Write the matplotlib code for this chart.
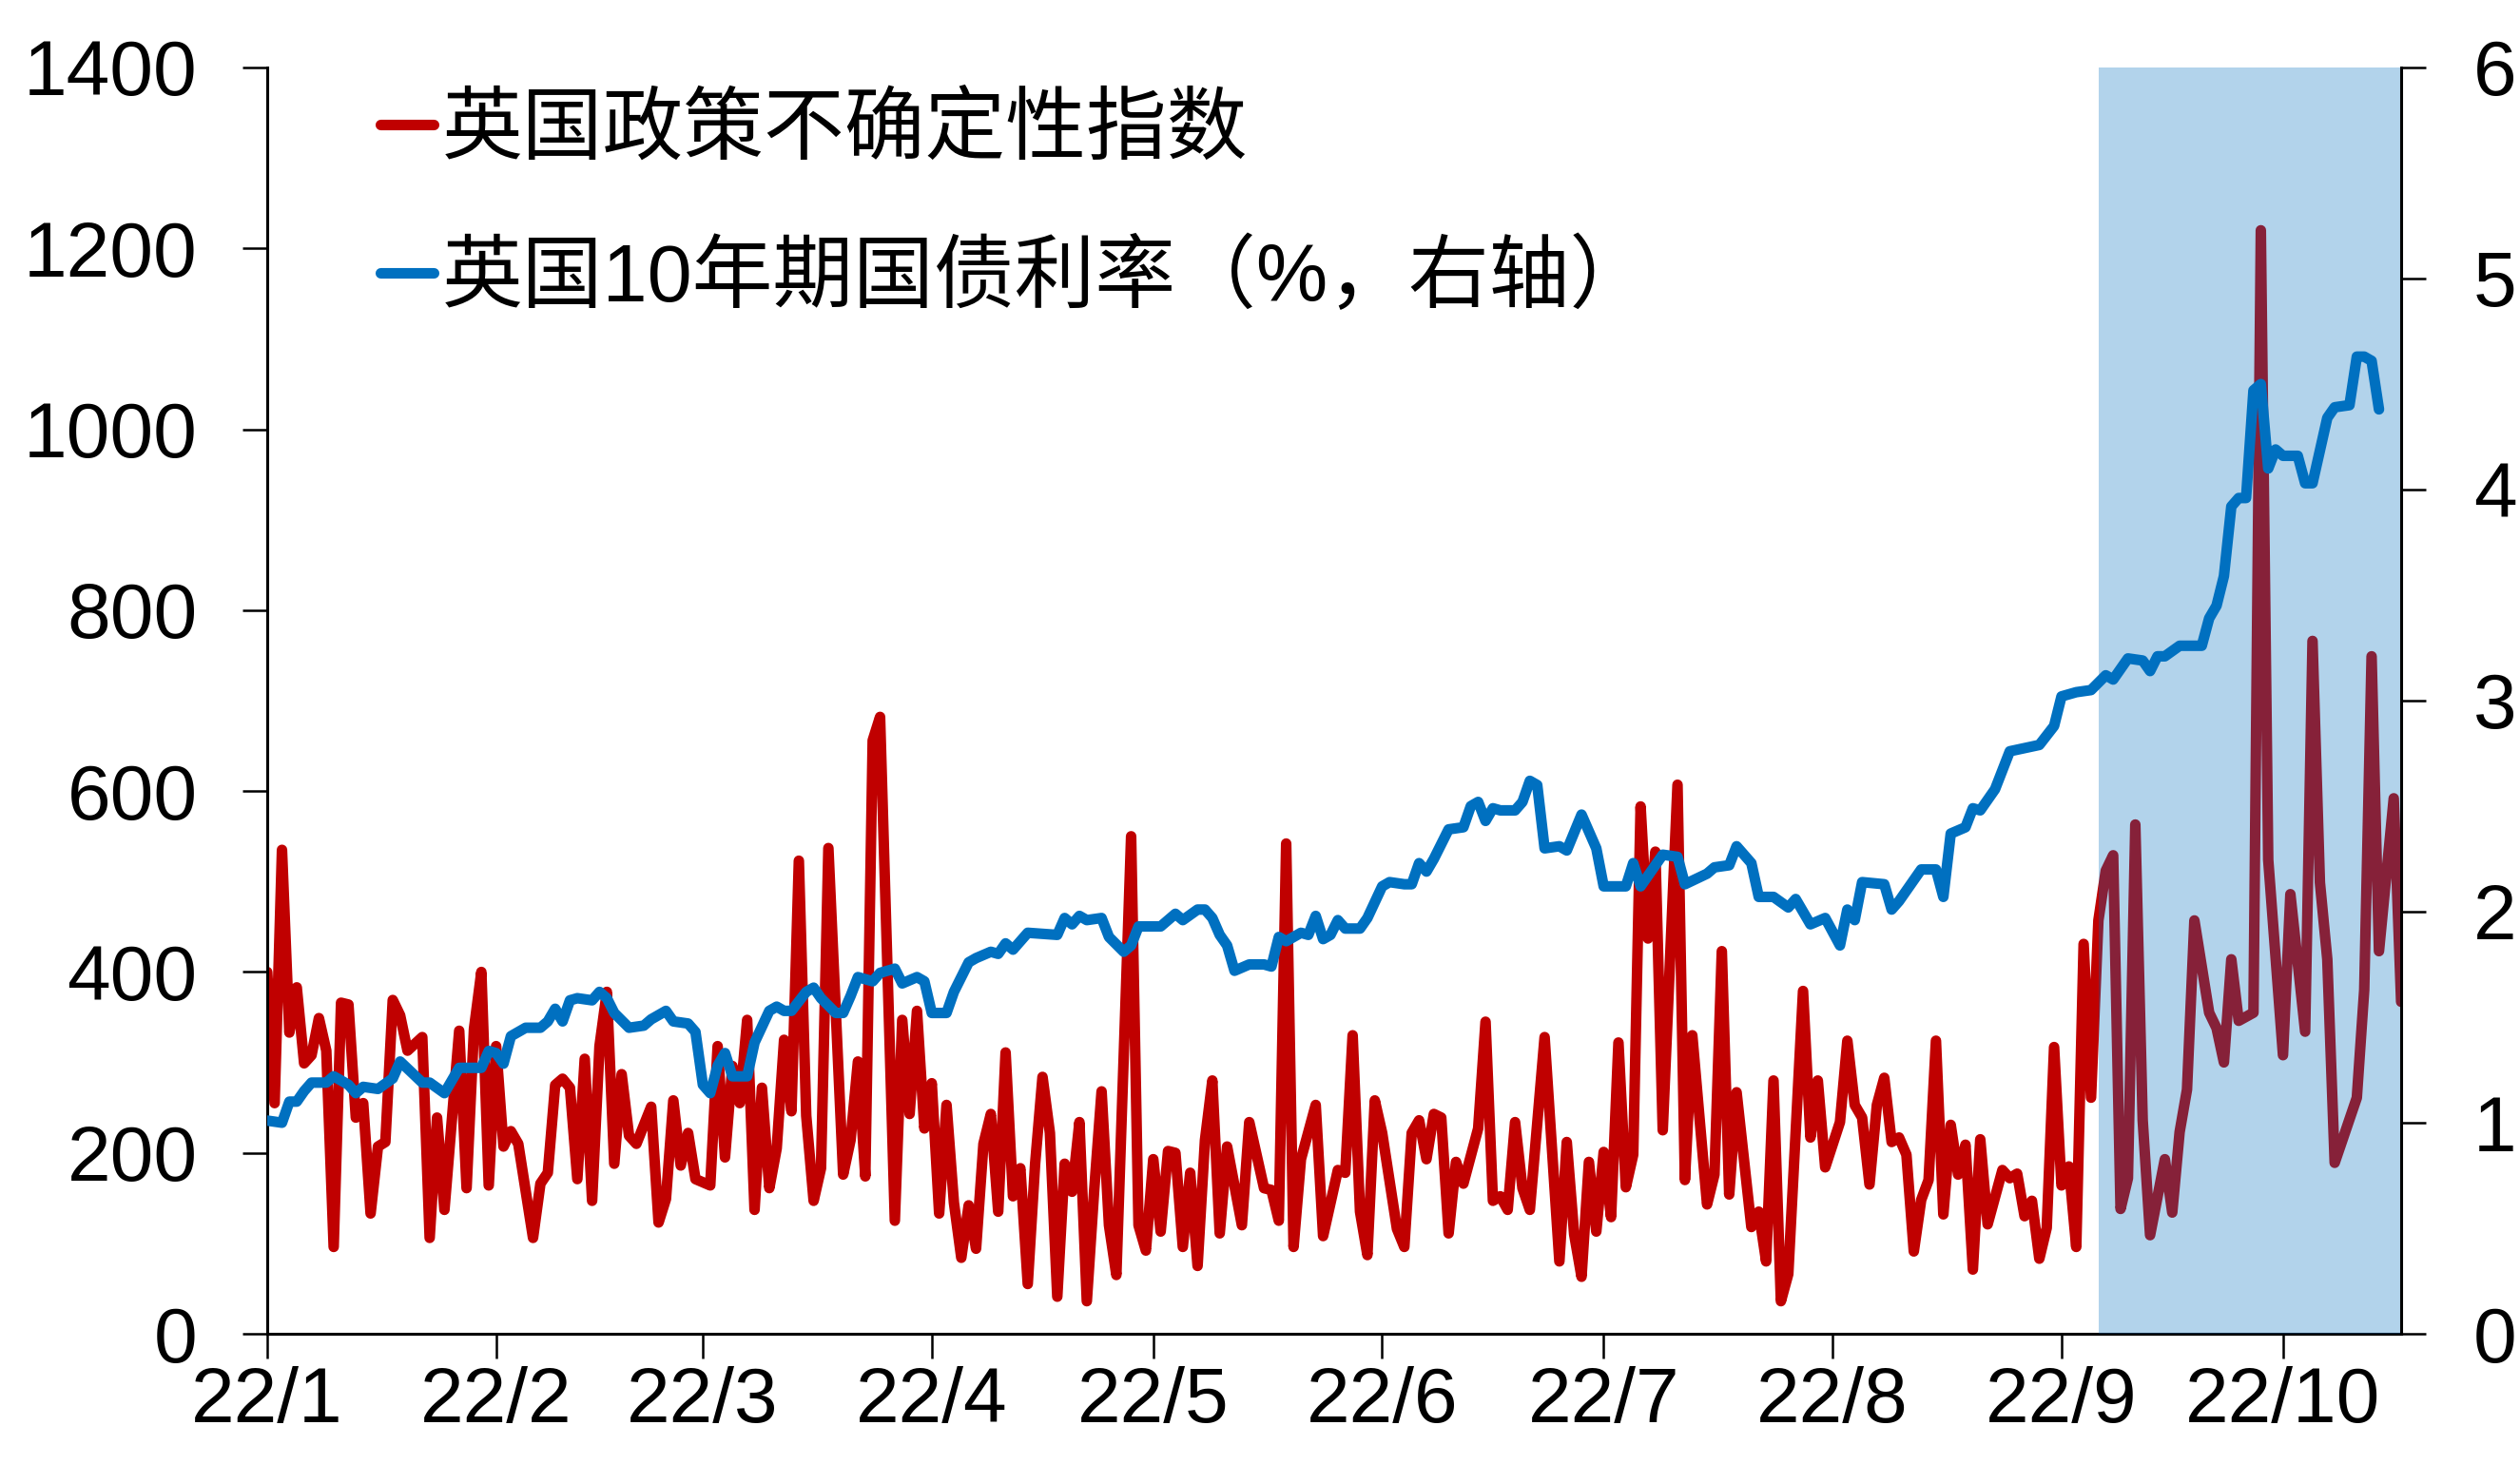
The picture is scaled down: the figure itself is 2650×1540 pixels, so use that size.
import numpy as np
import matplotlib
matplotlib.use('Agg')
import matplotlib.pyplot as plt
import matplotlib.dates as mdates
from matplotlib.lines import Line2D
from matplotlib.ticker import FuncFormatter

plt.rcParams['font.family'] = ['Liberation Sans', 'Noto Sans CJK SC', 'DejaVu Sans']

# ---------------- data ----------------
start_date = '2022-01-01'
end_date = '2022-10-17'
shade_start = '2022-09-06'
shade_end = '2022-10-17'

# UK economic policy uncertainty index (day offset from 2022-01-01, value)
red_days = [0, 1, 2, 3, 4, 5, 6, 7, 8, 9, 10, 11, 12, 13, 14, 15, 16, 17, 18, 19, 21, 22, 23, 24, 26, 27, 28, 29, 30,
            31, 32, 33, 34, 36, 37, 38, 39, 40, 41, 42, 43, 44, 45, 46, 47, 48, 49, 50, 52, 53, 54, 55, 56, 57, 58,
            60, 61, 62, 63, 64, 65, 66, 67, 68, 69, 70, 71, 72, 73, 74, 75, 76, 78, 79, 80, 81, 82, 83, 85, 86, 87,
            88, 89, 90, 91, 92, 93, 94, 95, 96, 97, 98, 99, 100, 101, 102, 103, 104, 105, 106, 107, 108, 109, 110,
            111, 112, 113, 114, 115, 117, 118, 119, 120, 121, 122, 123, 124, 125, 126, 127, 128, 129, 130, 132, 133,
            135, 136, 137, 138, 139, 140, 142, 143, 145, 146, 147, 148, 149, 150, 151, 153, 154, 155, 156, 157, 158,
            159, 160, 161, 162, 164, 165, 166, 167, 168, 169, 170, 171, 173, 175, 176, 177, 178, 179, 180, 181, 182,
            183, 184, 185, 186, 187, 188, 189, 191, 192, 193, 195, 196, 197, 198, 199, 201, 202, 203, 204, 205, 206,
            208, 209, 210, 211, 213, 214, 215, 216, 217, 218, 219, 220, 221, 222, 223, 224, 225, 226, 227, 228, 229,
            230, 231, 232, 233, 235, 236, 237, 238, 239, 240, 241, 242, 243, 244, 245, 246, 247, 248, 249, 250, 251,
            252, 253, 254, 255, 257, 258, 259, 260, 261, 263, 264, 265, 266, 267, 269, 270, 271, 273, 274, 276, 277,
            278, 279, 280, 283, 284, 285, 286, 288, 289]
red_vals = [400, 255, 535, 333, 383, 299, 308, 349, 313, 96, 366, 364, 239, 255, 133, 207, 212, 369, 352, 313, 328,
            106, 239, 137, 335, 161, 337, 400, 164, 318, 207, 224, 210, 106, 166, 178, 275, 282, 272, 171, 304, 147,
            318, 378, 188, 287, 219, 210, 251, 123, 149, 258, 186, 222, 171, 164, 318, 195, 296, 255, 347, 137, 272,
            161, 205, 325, 246, 523, 241, 147, 183, 537, 176, 214, 301, 174, 656, 682, 125, 347, 243, 357, 227, 277,
            133, 253, 145, 84, 142, 94, 210, 243, 135, 311, 152, 183, 55, 188, 284, 222, 41, 188, 157, 234, 36, 159,
            268, 120, 65, 550, 120, 92, 193, 113, 202, 200, 96, 178, 75, 214, 280, 111, 207, 120, 234, 161, 159, 125,
            542, 96, 193, 253, 108, 181, 178, 330, 135, 87, 258, 222, 116, 96, 222, 236, 193, 243, 239, 111, 190, 166,
            227, 345, 147, 152, 137, 234, 161, 137, 328, 80, 212, 110, 63, 190, 113, 201, 129, 322, 162, 198, 583,
            437, 533, 225, 607, 170, 330, 143, 176, 423, 154, 267, 118, 135, 80, 280, 36, 66, 379, 217, 280, 184,
            234, 324, 253, 239, 165, 253, 283, 212, 217, 198, 91, 148, 170, 324, 132, 231, 176, 209, 71, 215, 121,
            181, 172, 177, 130, 147, 83, 117, 317, 164, 185, 96, 431, 261, 457, 512, 529, 138, 172, 563, 236, 109,
            193, 134, 223, 270, 457, 355, 338, 300, 414, 346, 355, 1220, 524, 308, 486, 334, 766, 499, 414, 189,
            261, 380, 749, 423, 592, 367]

# UK 10-year gilt yield, % (day offset from 2022-01-01, value)
blue_days = [0, 2, 3, 4, 5, 6, 8, 9, 11, 12, 13, 15, 17, 18, 21, 22, 24, 25, 26, 29, 30, 31, 32, 33, 35, 37, 38, 39,
             40, 41, 42, 44, 45, 46, 47, 49, 51, 52, 54, 55, 57, 58, 59, 60, 61, 62, 63, 65, 66, 68, 69, 70, 71, 73,
             74, 75, 77, 78, 79, 80, 82, 83, 85, 86, 88, 89, 90, 92, 93, 95, 96, 98, 99, 100, 101, 103, 107, 108,
             109, 110, 111, 113, 114, 116, 117, 118, 121, 122, 123, 124, 126, 127, 128, 129, 130, 131, 133, 135, 136,
             137, 138, 140, 141, 142, 143, 144, 145, 146, 148, 149, 151, 152, 154, 155, 156, 157, 158, 160, 162, 163,
             164, 165, 166, 167, 169, 170, 171, 172, 173, 175, 176, 178, 180, 181, 184, 185, 186, 189, 191, 192, 195,
             196, 198, 199, 201, 202, 204, 206, 207, 209, 211, 213, 214, 215, 216, 219, 220, 221, 224, 226, 227, 228,
             230, 231, 232, 234, 236, 240, 242, 243, 245, 247, 249, 250, 252, 254, 255, 256, 257, 259, 262, 263, 264,
             265, 266, 267, 268, 269, 270, 271, 272, 273, 275, 276, 277, 279, 280, 282, 283, 284, 285, 286]
blue_vals = [1.01, 1.00, 1.10, 1.10, 1.15, 1.19, 1.19, 1.22, 1.18, 1.14, 1.17, 1.16, 1.21, 1.29, 1.19, 1.19, 1.14,
             1.20, 1.26, 1.26, 1.34, 1.33, 1.28, 1.41, 1.45, 1.45, 1.48, 1.54, 1.48, 1.58, 1.59, 1.58, 1.62, 1.59,
             1.52, 1.45, 1.46, 1.49, 1.53, 1.48, 1.47, 1.43, 1.18, 1.14, 1.27, 1.33, 1.22, 1.22, 1.38, 1.53, 1.55,
             1.53, 1.53, 1.62, 1.64, 1.59, 1.52, 1.52, 1.60, 1.69, 1.67, 1.71, 1.73, 1.66, 1.69, 1.67, 1.52, 1.52,
             1.62, 1.76, 1.78, 1.81, 1.80, 1.85, 1.82, 1.90, 1.89, 1.97, 1.94, 1.98, 1.96, 1.97, 1.88, 1.81, 1.84,
             1.93, 1.93, 1.96, 1.99, 1.96, 2.01, 2.01, 1.97, 1.89, 1.84, 1.72, 1.75, 1.75, 1.74, 1.88, 1.86, 1.90,
             1.89, 1.98, 1.87, 1.89, 1.96, 1.92, 1.92, 1.97, 2.12, 2.14, 2.13, 2.13, 2.23, 2.19, 2.25, 2.39, 2.40,
             2.50, 2.52, 2.43, 2.49, 2.48, 2.48, 2.52, 2.62, 2.60, 2.30, 2.31, 2.29, 2.46, 2.30, 2.12, 2.12, 2.23,
             2.12, 2.27, 2.26, 2.13, 2.18, 2.21, 2.22, 2.31, 2.23, 2.07, 2.07, 2.02, 2.06, 1.94, 1.97, 1.84, 2.01,
             1.96, 2.14, 2.13, 2.01, 2.05, 2.20, 2.20, 2.07, 2.37, 2.40, 2.49, 2.48, 2.58, 2.76, 2.79, 2.88, 3.02,
             3.04, 3.05, 3.12, 3.10, 3.20, 3.19, 3.14, 3.21, 3.21, 3.26, 3.26, 3.39, 3.45, 3.59, 3.92, 3.96, 3.96,
             4.47, 4.50, 4.10, 4.19, 4.16, 4.16, 4.03, 4.03, 4.34, 4.39, 4.40, 4.63, 4.63, 4.61, 4.38]

left_ticks = [0, 200, 400, 600, 800, 1000, 1200, 1400]
right_ticks = [0, 1, 2, 3, 4, 5, 6]
series_labels = ['英国政策不确定性指数', '英国10年期国债利率（%，右轴）']

# ---------------- build ----------------
red_color = '#C00000'
blue_color = '#0070C0'

t0 = np.datetime64(start_date)
red_x = t0 + np.array(red_days, dtype='timedelta64[D]')
blue_x = t0 + np.array(blue_days, dtype='timedelta64[D]')

fig = plt.figure(figsize=(13.25, 7.7), dpi=200)
ax1 = fig.add_axes([0.10604, 0.08896, 0.84679, 0.86494])
ax2 = ax1.twinx()

lw = 4.0
ax1.plot(red_x, red_vals, color=red_color, lw=lw, solid_joinstyle='round',
         solid_capstyle='round', zorder=2)
ax1.axvspan(np.datetime64(shade_start), np.datetime64(shade_end), color=blue_color,
            alpha=0.3, lw=0, zorder=3)
ax2.plot(blue_x, blue_vals, color=blue_color, lw=lw, solid_joinstyle='round',
         solid_capstyle='round', zorder=2)

ax1.set_xlim(np.datetime64(start_date), np.datetime64(end_date))
ax1.set_ylim(0, 1400)
ax2.set_ylim(0, 6)
ax1.set_yticks(left_ticks)
ax2.set_yticks(right_ticks)

ax1.xaxis.set_major_locator(mdates.MonthLocator())
ax1.xaxis.set_major_formatter(
    FuncFormatter(lambda v, p: f"{mdates.num2date(v).year % 100}/{mdates.num2date(v).month}"))

spine_w = 1.1
for ax in (ax1, ax2):
    ax.spines['top'].set_visible(False)
    for s in ax.spines.values():
        s.set_linewidth(spine_w)
ax1.spines['right'].set_visible(False)
ax2.spines['left'].set_visible(False)
ax2.spines['bottom'].set_visible(False)

fs = 29.5
ax1.tick_params(axis='y', direction='out', length=9.4, width=0.9, labelsize=fs, pad=17)
ax1.tick_params(axis='x', direction='out', length=9.4, width=0.9, labelsize=fs, pad=3)
ax2.tick_params(axis='y', direction='out', length=9.4, width=0.9, labelsize=fs, pad=18)

handles = [Line2D([], [], color=red_color, lw=4.0, solid_capstyle='round'),
           Line2D([], [], color=blue_color, lw=4.0, solid_capstyle='round')]
leg = ax2.legend(handles, series_labels, loc='upper left', bbox_to_anchor=(0.151, 0.936),
                 bbox_transform=fig.transFigure, frameon=False, fontsize=30.5,
                 handlelength=0.66, handletextpad=0.1, labelspacing=0.88, borderpad=0,
                 borderaxespad=0)
leg.set_zorder(10)

fig.savefig('out.png', dpi=200)
